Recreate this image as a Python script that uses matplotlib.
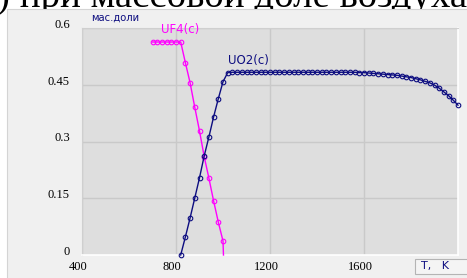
import matplotlib
matplotlib.use("Agg")
import matplotlib.pyplot as plt
import matplotlib.transforms as mtransforms
from matplotlib.patches import Rectangle

# ---- data ----
t_uf4 = [700, 720, 740, 760, 780, 800, 820, 840, 860, 880, 900, 920, 940, 960, 980, 1000, 1002]
uf4 = [0.563, 0.563, 0.563, 0.563, 0.563, 0.563, 0.563, 0.508, 0.455, 0.390, 0.328,
       0.260, 0.203, 0.143, 0.087, 0.037, 0.0]

t_uo2 = [820, 840, 860, 880, 900, 920, 940, 960, 980, 1000,
         1020, 1040, 1060, 1080, 1100, 1120, 1140, 1160, 1180, 1200,
         1220, 1240, 1260, 1280, 1300, 1320, 1340, 1360, 1380, 1400,
         1420, 1440, 1460, 1480, 1500, 1520, 1540, 1560, 1580, 1600,
         1620, 1640, 1660, 1680, 1700, 1720, 1740, 1760, 1780, 1800,
         1820, 1840, 1860, 1880, 1900, 1920, 1940, 1960, 1980, 2000]
uo2 = [0.000, 0.048, 0.098, 0.151, 0.204, 0.262, 0.312, 0.365, 0.413, 0.458,
       0.482, 0.483, 0.483, 0.483, 0.483, 0.483, 0.483, 0.483, 0.483, 0.483,
       0.483, 0.483, 0.483, 0.483, 0.483, 0.483, 0.483, 0.483, 0.483, 0.483,
       0.483, 0.483, 0.483, 0.483, 0.483, 0.483, 0.483, 0.483, 0.482, 0.482,
       0.481, 0.480, 0.479, 0.478, 0.477, 0.476, 0.475, 0.473, 0.471, 0.469,
       0.466, 0.463, 0.459, 0.455, 0.449, 0.441, 0.431, 0.421, 0.409, 0.396]

x_ticks = [400, 800, 1200, 1600]
x_ticklabels = ["400", "800", "1200", "1600"]
y_ticks = [0, 0.15, 0.3, 0.45, 0.6]
y_ticklabels = ["0", "0.15", "0.3", "0.45", "0.6"]

title_text = ") при массовой доле воздуха"
y_label = "мас.доли"
x_label = "T,   K"
uf4_label = "UF4(c)"
uo2_label = "UO2(c)"

W, H = 467, 278
fig = plt.figure(figsize=(W / 100, H / 100), dpi=100)
fig.patch.set_facecolor("white")

def fx(px):
    return px / W

def fy(py):
    return 1 - py / H

# outer grey panel (covers the lower part of the document text above it)
fig.patches.append(Rectangle((fx(7), -0.01), 1.0, fy(9) + 0.01, transform=fig.transFigure,
                             facecolor="#f0f0f0", edgecolor="#d4d4d4", linewidth=0.8, zorder=-3))

# title text (cut off at the top, partly hidden under the chart panel)
fig.text(fx(-3), fy(7.5), title_text, fontsize=28, family="Liberation Serif",
         color="black", ha="left", va="baseline", zorder=-4)

ax = fig.add_axes([fx(82), fy(255), fx(458) - fx(82), fy(28) - fy(255)])
ax.set_zorder(1)
ax.set_facecolor("#dedede")
ax.set_xlim(400, 2000)
ax.set_ylim(0, 0.6)
ax.set_xticks(x_ticks)
ax.set_xticklabels(x_ticklabels)
ax.set_yticks(y_ticks)
ax.set_yticklabels(y_ticklabels)
ax.grid(True, color="#c9c9c9", linewidth=1.0)
ax.set_axisbelow(True)
ax.tick_params(length=0, labelsize=9, pad=0)
for s in ["top", "left"]:
    ax.spines[s].set_color("#cfcfcf")
    ax.spines[s].set_linewidth(0.8)
for s in ["bottom", "right"]:
    ax.spines[s].set_color("white")
    ax.spines[s].set_linewidth(1.2)

for lab in ax.get_yticklabels():
    lab.set_family("Liberation Serif")
    lab.set_va("baseline")
    lab.set_transform(lab.get_transform() + mtransforms.ScaledTranslation(-12 / 100, 0, fig.dpi_scale_trans))
for lab in ax.get_xticklabels():
    lab.set_family("Liberation Serif")
    lab.set_transform(lab.get_transform() + mtransforms.ScaledTranslation(-4 / 100, -6 / 100, fig.dpi_scale_trans))

mag = "#ff00ff"
navy = "#0d0d80"
ax.plot(t_uf4, uf4, color=mag, linewidth=1.0, marker="o", markersize=3.3,
        markerfacecolor="none", markeredgecolor=mag, markeredgewidth=0.8,
        markevery=list(range(len(t_uf4) - 1)), clip_on=False, zorder=3)
ax.plot(t_uo2, uo2, color=navy, linewidth=1.0, marker="o", markersize=3.3,
        markerfacecolor="none", markeredgecolor=navy, markeredgewidth=0.8,
        clip_on=False, zorder=3)

ax.text(737, 0.563 + 0.016, uf4_label, color=mag, fontsize=8.5, family="DejaVu Sans",
        ha="left", va="bottom")
ax.text(1020, 0.483 + 0.014, uo2_label, color=navy, fontsize=8.5, family="DejaVu Sans",
        ha="left", va="bottom")

fig.text(fx(91), fy(18), y_label, color=navy, fontsize=7.2, family="DejaVu Sans",
         ha="left", va="center")

# "T, K" box
fig.patches.append(Rectangle((fx(415), fy(274)), fx(60), fy(259) - fy(274), transform=fig.transFigure,
                             facecolor="#f4f4f4", edgecolor="#b4b4b4", linewidth=0.8, zorder=2))
fig.text(fx(421), fy(266.5), x_label, color=navy, fontsize=8, family="DejaVu Sans",
         ha="left", va="center", zorder=3)

fig.savefig("out.png", dpi=100)
